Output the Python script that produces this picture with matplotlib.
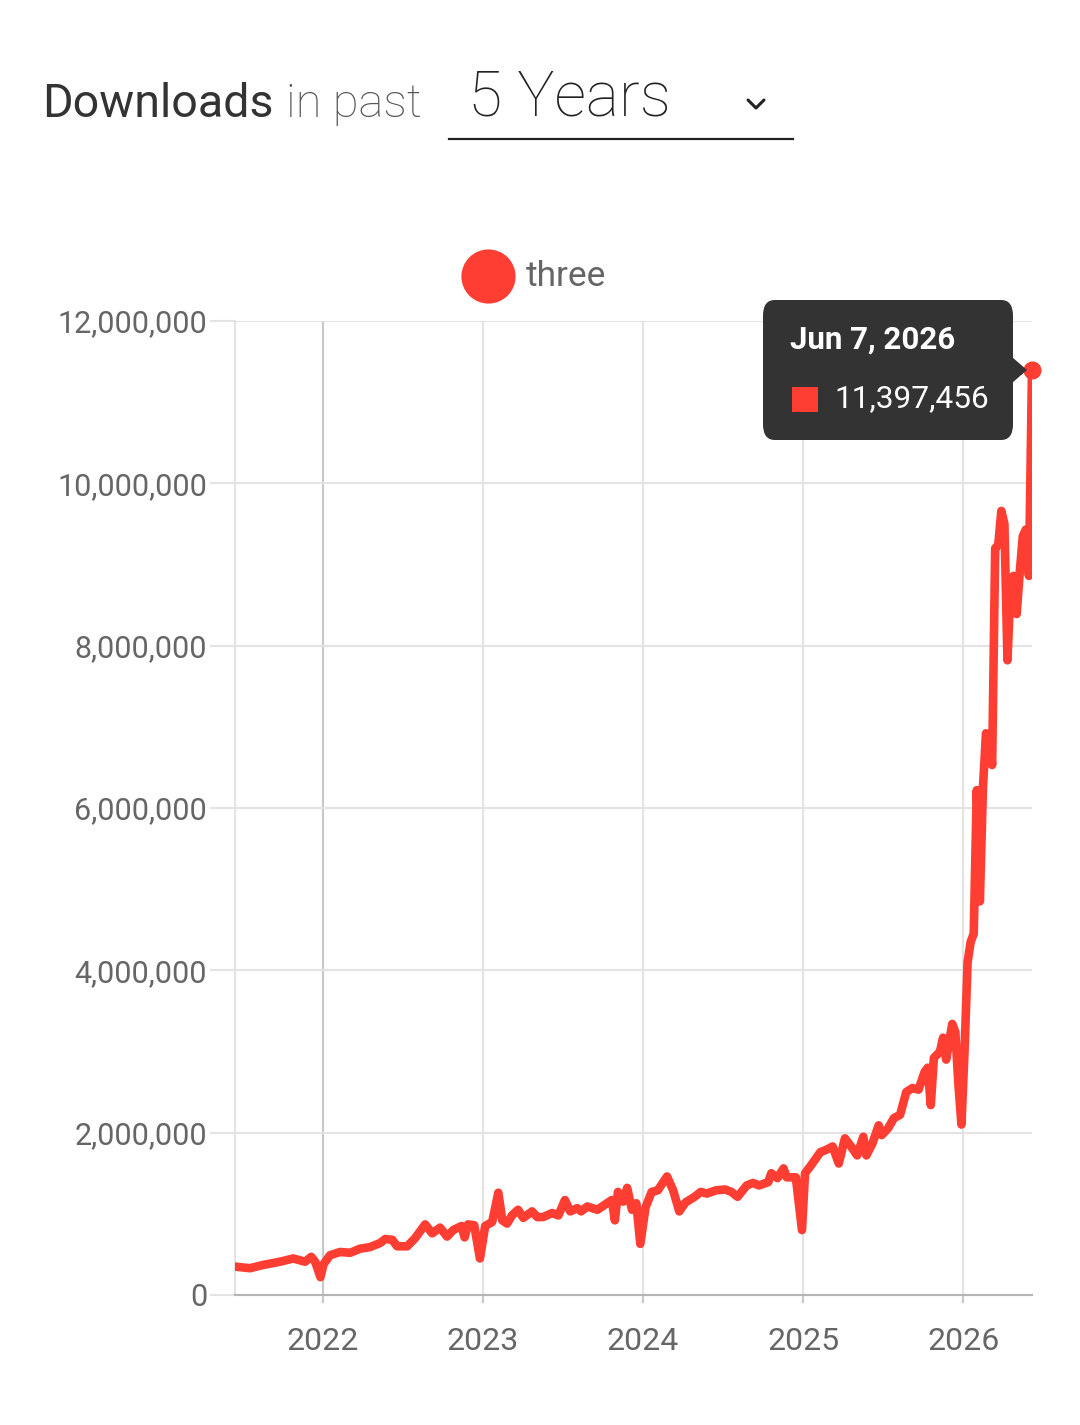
import matplotlib
matplotlib.use("Agg")
import matplotlib.pyplot as plt
from matplotlib.lines import Line2D
from matplotlib.patches import FancyBboxPatch, Polygon, Rectangle
import pandas as pd

# weekly downloads of "three" (millions)
fechas = [
    "2021-06-14", "2021-07-18", "2021-08-17", "2021-09-25", "2021-10-25",
    "2021-11-21", "2021-12-05", "2021-12-14", "2021-12-26", "2022-01-02",
    "2022-01-17", "2022-02-09", "2022-03-04", "2022-03-26", "2022-04-18",
    "2022-05-11", "2022-05-23", "2022-06-08", "2022-06-19", "2022-07-12",
    "2022-07-30", "2022-08-22", "2022-09-07", "2022-09-25", "2022-10-11",
    "2022-10-25", "2022-11-13", "2022-11-20", "2022-11-28", "2022-12-12",
    "2022-12-25", "2023-01-06", "2023-01-22", "2023-02-05", "2023-02-14",
    "2023-02-25", "2023-03-08", "2023-03-22", "2023-04-03", "2023-04-23",
    "2023-05-05", "2023-05-18", "2023-06-08", "2023-06-22", "2023-07-07",
    "2023-07-19", "2023-08-04", "2023-08-13", "2023-08-27", "2023-09-19",
    "2023-10-11", "2023-10-22", "2023-10-29", "2023-11-05", "2023-11-17",
    "2023-11-26", "2023-12-07", "2023-12-17", "2023-12-26", "2024-01-07",
    "2024-01-21", "2024-02-04", "2024-02-25", "2024-03-10", "2024-03-24",
    "2024-04-07", "2024-04-28", "2024-05-12", "2024-05-26", "2024-06-16",
    "2024-07-07", "2024-07-21", "2024-08-04", "2024-08-25", "2024-09-08",
    "2024-09-22", "2024-10-13", "2024-10-20", "2024-11-03", "2024-11-17",
    "2024-11-24", "2024-12-15", "2024-12-29", "2025-01-05", "2025-01-19",
    "2025-02-09", "2025-02-23", "2025-03-09", "2025-03-23", "2025-04-06",
    "2025-04-20", "2025-05-04", "2025-05-18", "2025-05-25", "2025-06-08",
    "2025-06-22", "2025-06-29", "2025-07-13", "2025-07-27", "2025-08-10",
    "2025-08-24", "2025-09-07", "2025-09-21", "2025-10-05", "2025-10-12",
    "2025-10-19", "2025-10-26", "2025-11-09", "2025-11-16", "2025-11-23",
    "2025-12-07", "2025-12-14", "2025-12-21", "2025-12-28", "2026-01-04",
    "2026-01-11", "2026-01-18", "2026-01-25", "2026-02-01", "2026-02-08",
    "2026-02-15", "2026-02-22", "2026-03-01", "2026-03-08", "2026-03-15",
    "2026-03-22", "2026-03-29", "2026-04-05", "2026-04-12", "2026-04-19",
    "2026-04-26", "2026-05-03", "2026-05-10", "2026-05-17", "2026-05-24",
    "2026-05-31", "2026-06-07",
]
descargas_m = [
    0.35, 0.33, 0.37, 0.41, 0.45,
    0.41, 0.47, 0.41, 0.22, 0.38,
    0.49, 0.53, 0.52, 0.57, 0.59,
    0.64, 0.69, 0.68, 0.60, 0.60,
    0.70, 0.87, 0.76, 0.83, 0.72,
    0.80, 0.85, 0.71, 0.87, 0.86,
    0.45, 0.85, 0.90, 1.26, 0.92,
    0.88, 0.98, 1.05, 0.95, 1.03,
    0.96, 0.96, 1.01, 0.98, 1.17,
    1.03, 1.07, 1.03, 1.09, 1.05,
    1.13, 1.17, 0.92, 1.27, 1.15,
    1.32, 1.05, 1.13, 0.63, 1.08,
    1.27, 1.29, 1.46, 1.29, 1.03,
    1.14, 1.21, 1.27, 1.25, 1.29,
    1.30, 1.27, 1.21, 1.35, 1.38,
    1.35, 1.39, 1.50, 1.44, 1.56,
    1.45, 1.45, 0.80, 1.50, 1.60,
    1.76, 1.79, 1.83, 1.62, 1.93,
    1.83, 1.72, 1.95, 1.72, 1.87,
    2.09, 1.97, 2.05, 2.18, 2.22,
    2.50, 2.55, 2.53, 2.75, 2.80,
    2.34, 2.92, 3.00, 3.17, 2.90,
    3.34, 3.24, 2.60, 2.10, 3.00,
    4.10, 4.35, 4.45, 6.22, 4.85,
    6.25, 6.92, 6.90, 6.53, 9.20,
    9.24, 9.66, 9.50, 7.82, 8.72,
    8.86, 8.39, 8.90, 9.35, 9.43,
    8.86, 11.397456,
]
anios = ["2022", "2023", "2024", "2025", "2026"]
etiquetas_y = [0, 2, 4, 6, 8, 10, 12]
paquete = "three"
fecha_tooltip = "Jun 7, 2026"

ROJO = "#fe3d33"
GRIS_TEXTO = "#666666"
GRIS_GRID = "#e3e3e3"

plt.rcParams["font.family"] = ["Roboto", "DejaVu Sans"]

W, H = 1080, 1425
fig = plt.figure(figsize=(W / 100, H / 100), dpi=100)


def fx(px):
    return px / W


def fy(py):
    return 1 - py / H


ax = fig.add_axes([fx(235), fy(1295), fx(1032) - fx(235), fy(321) - fy(1295)])

x = pd.to_datetime(fechas)
y = [v * 1e6 for v in descargas_m]
ax.plot(x, y, color=ROJO, lw=6.2, solid_joinstyle="round", solid_capstyle="round", zorder=3)
ax.plot(x[-1:], y[-1:], "o", color=ROJO, ms=12, clip_on=False, zorder=4)

ax.set_xlim(pd.Timestamp("2021-06-14"), pd.Timestamp("2026-06-07"))
ax.set_ylim(0, 12e6)

ticks_x = [pd.Timestamp(a + "-01-01") for a in anios]
ax.set_xticks(ticks_x)
ax.set_xticklabels(anios)
ax.set_yticks([v * 1e6 for v in etiquetas_y])
ax.set_yticklabels([f"{v * 1000000:,}" for v in etiquetas_y])

ax.grid(True, color=GRIS_GRID, lw=1.5, zorder=0)
ax.get_xgridlines()[0].set_color("#c8c8c8")
ax.tick_params(axis="y", length=18, width=1.5, color=GRIS_GRID, pad=2,
               labelsize=22, labelcolor=GRIS_TEXTO)
ax.tick_params(axis="x", length=6, width=1.5, color="#c8c8c8", pad=17,
               labelsize=23, labelcolor=GRIS_TEXTO)
for lado in ["top", "right"]:
    ax.spines[lado].set_visible(False)
ax.spines["left"].set_color(GRIS_GRID)
ax.spines["left"].set_linewidth(1.5)
ax.spines["bottom"].set_color("#b5b5b5")
ax.spines["bottom"].set_linewidth(1.5)

# encabezado
fig.text(fx(42), fy(117), "Downloads", fontsize=33.5, color="#333333", va="baseline")
fig.text(fx(286), fy(117), "in past", fontsize=34, fontweight="light", color="#555555", va="baseline")
fig.text(fx(468), fy(115), "5 Years", fontsize=45, fontweight="light", color="#222222", va="baseline")
fig.add_artist(Line2D([fx(748), fx(756), fx(764)], [fy(100), fy(108), fy(100)],
                      color="#222222", lw=2.2, solid_capstyle="round"))
fig.add_artist(Line2D([fx(449), fx(793)], [fy(139), fy(139)], color="#222222", lw=1.6))

# leyenda
fig.add_artist(Line2D([fx(488)], [fy(276)], marker="o", ms=38, color=ROJO, lw=0))
fig.text(fx(526), fy(276), paquete, fontsize=25.5, color=GRIS_TEXTO, va="center")

# tooltip
caja = FancyBboxPatch((fx(763), fy(440)), fx(1013) - fx(763), fy(300) - fy(440),
                      boxstyle="round,pad=0,rounding_size=0.011",
                      transform=fig.transFigure, fc="#333333", ec="none", zorder=10)
fig.add_artist(caja)
fig.add_artist(Polygon([[fx(1012), fy(357)], [fx(1027), fy(370)], [fx(1012), fy(383)]],
                       closed=True, transform=fig.transFigure, fc="#333333", ec="none", zorder=10))
fig.text(fx(790), fy(340), fecha_tooltip, fontsize=22.5, fontweight="bold", color="white",
         va="center", zorder=11)
fig.add_artist(Rectangle((fx(792), fy(412)), fx(818) - fx(792), fy(387) - fy(412),
                         transform=fig.transFigure, fc=ROJO, ec="none", zorder=11))
fig.text(fx(834), fy(399), f"{descargas_m[-1] * 1e6:,.0f}", fontsize=22.8, color="white",
         va="center", zorder=11)

fig.savefig("out.png", dpi=100, facecolor="white")
